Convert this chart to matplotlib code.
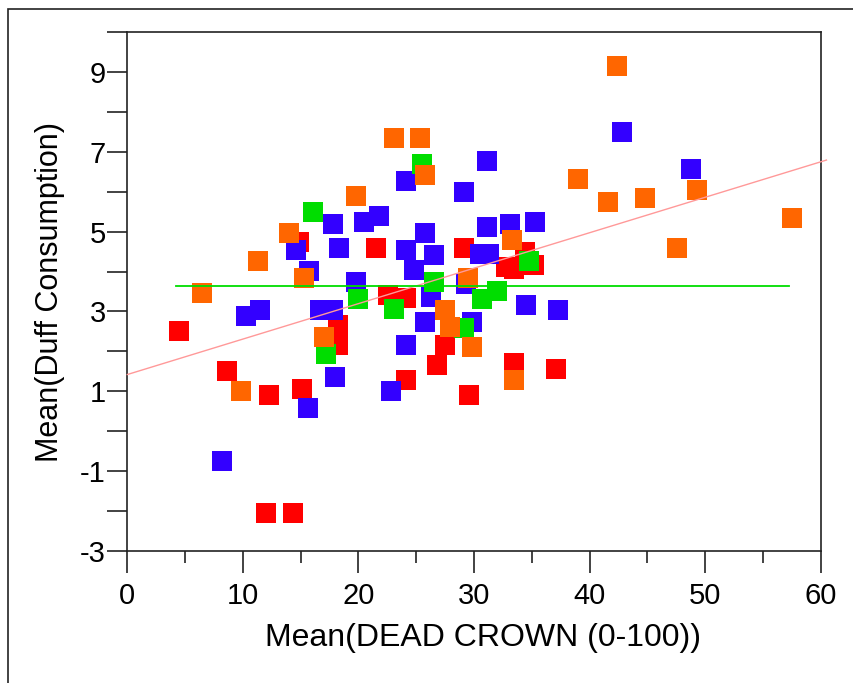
import matplotlib
matplotlib.use("Agg")
import matplotlib.pyplot as plt
from matplotlib.patches import Rectangle
from matplotlib.ticker import MultipleLocator
import numpy as np

plt.rcParams["font.family"] = ["Liberation Sans", "DejaVu Sans"]
plt.rcParams["axes.unicode_minus"] = False

# points, one group per colour
red_x = [4.5, 8.6, 12.0, 14.3, 12.3, 15.1, 14.9, 18.2, 18.2, 21.5, 22.6, 24.1,
         24.1, 26.8, 27.5, 29.1, 29.6, 32.8, 33.5, 34.4, 35.2, 33.5, 37.1]
red_y = [2.51, 1.5, -2.05, -2.05, 0.9, 1.05, 4.73, 2.65, 2.15, 4.6, 3.4, 3.33,
         1.28, 1.65, 2.15, 4.6, 0.9, 4.12, 4.07, 4.48, 4.17, 1.71, 1.57]

blue_x = [8.2, 10.3, 11.5, 14.6, 15.7, 15.6, 16.7, 17.8, 17.8, 18.3, 18.0, 19.8,
          20.5, 21.8, 22.8, 24.1, 24.1, 24.8, 24.1, 25.8, 26.5, 26.3, 25.8, 29.1,
          29.3, 29.8, 30.5, 31.3, 31.1, 31.1, 33.1, 35.3, 34.5, 37.3, 42.8, 48.8]
blue_y = [-0.74, 2.88, 3.03, 4.54, 4.02, 0.57, 3.03, 3.03, 5.19, 4.6, 1.36, 3.73,
          5.25, 5.38, 1.0, 6.27, 4.53, 4.03, 2.15, 4.96, 4.42, 3.36, 2.74, 6.0,
          3.69, 2.74, 4.44, 4.44, 6.77, 5.11, 5.2, 5.25, 3.17, 3.03, 7.5, 6.57]

green_x = [16.1, 17.2, 20.0, 23.1, 25.5, 26.5, 29.1, 30.7, 32.0, 34.8]
green_y = [5.48, 1.94, 3.32, 3.07, 6.69, 3.75, 2.58, 3.32, 3.52, 4.26]

orange_x = [6.5, 9.8, 11.3, 14.0, 15.3, 17.0, 19.8, 23.1, 25.3, 25.8, 27.5, 27.9,
            29.5, 29.8, 33.3, 33.5, 39.0, 41.6, 42.4, 44.8, 47.6, 49.3, 57.5]
orange_y = [3.47, 1.01, 4.26, 4.96, 3.83, 2.36, 5.9, 7.35, 7.35, 6.42, 3.03, 2.6,
            3.83, 2.1, 4.78, 1.28, 6.33, 5.75, 9.16, 5.83, 4.6, 6.05, 5.34]

# fitted line and mean line
fit_intercept = 1.42
fit_slope = 0.0888
mean_y = 3.63

fig = plt.figure(figsize=(8.54, 6.83), dpi=100)
ax = fig.add_axes([127.3 / 854, 132 / 683, 693.4 / 854, 519 / 683])

# outer frame (left and top edges are visible)
fig.patches.append(Rectangle((8 / 854, -0.1), 1.2, 1.1 - 9 / 683, transform=fig.transFigure,
                             fill=False, edgecolor="#222222", linewidth=1.2))

msize = 190
ax.scatter(red_x, red_y, s=msize, marker="s", color="#ff0000", linewidths=0, zorder=3)
ax.scatter(blue_x, blue_y, s=msize, marker="s", color="#3300ff", linewidths=0, zorder=3)
ax.scatter(green_x, green_y, s=msize, marker="s", color="#00dd00", linewidths=0, zorder=3)
ax.scatter(orange_x, orange_y, s=msize, marker="s", color="#ff6600", linewidths=0, zorder=3)

all_x = red_x + blue_x + green_x + orange_x
xs = np.array([0, 60.5])
ax.plot(xs, fit_intercept + fit_slope * xs, color="#ff9999", linewidth=1.0, zorder=4, clip_on=False)
ax.plot([min(all_x) - 0.3, max(all_x) - 0.2], [mean_y, mean_y], color="#00dd00", linewidth=1.3, zorder=4)

ax.set_xlim(0, 60)
ax.set_ylim(-3, 10)
ax.xaxis.set_major_locator(MultipleLocator(10))
ax.xaxis.set_minor_locator(MultipleLocator(5))
ax.set_yticks([-3, -1, 1, 3, 5, 7, 9])
ax.yaxis.set_minor_locator(MultipleLocator(2))

for s in ax.spines.values():
    s.set_linewidth(1.2)
    s.set_color("#222222")
ax.tick_params(axis="x", which="major", length=16, width=1.2, color="#222222", labelsize=21, pad=6)
ax.tick_params(axis="x", which="minor", length=8.5, width=1.2, color="#222222")
ax.tick_params(axis="y", which="both", length=14.5, width=1.2, color="#222222", labelsize=21, pad=1)

ax.set_xlabel("Mean(DEAD CROWN (0-100))", fontsize=23)
ax.xaxis.set_label_coords(0.513, -0.138)
ax.set_ylabel("Mean(Duff Consumption)", fontsize=22)
ax.yaxis.set_label_coords(-0.09, 0.5)

fig.savefig("out.png", dpi=100)
